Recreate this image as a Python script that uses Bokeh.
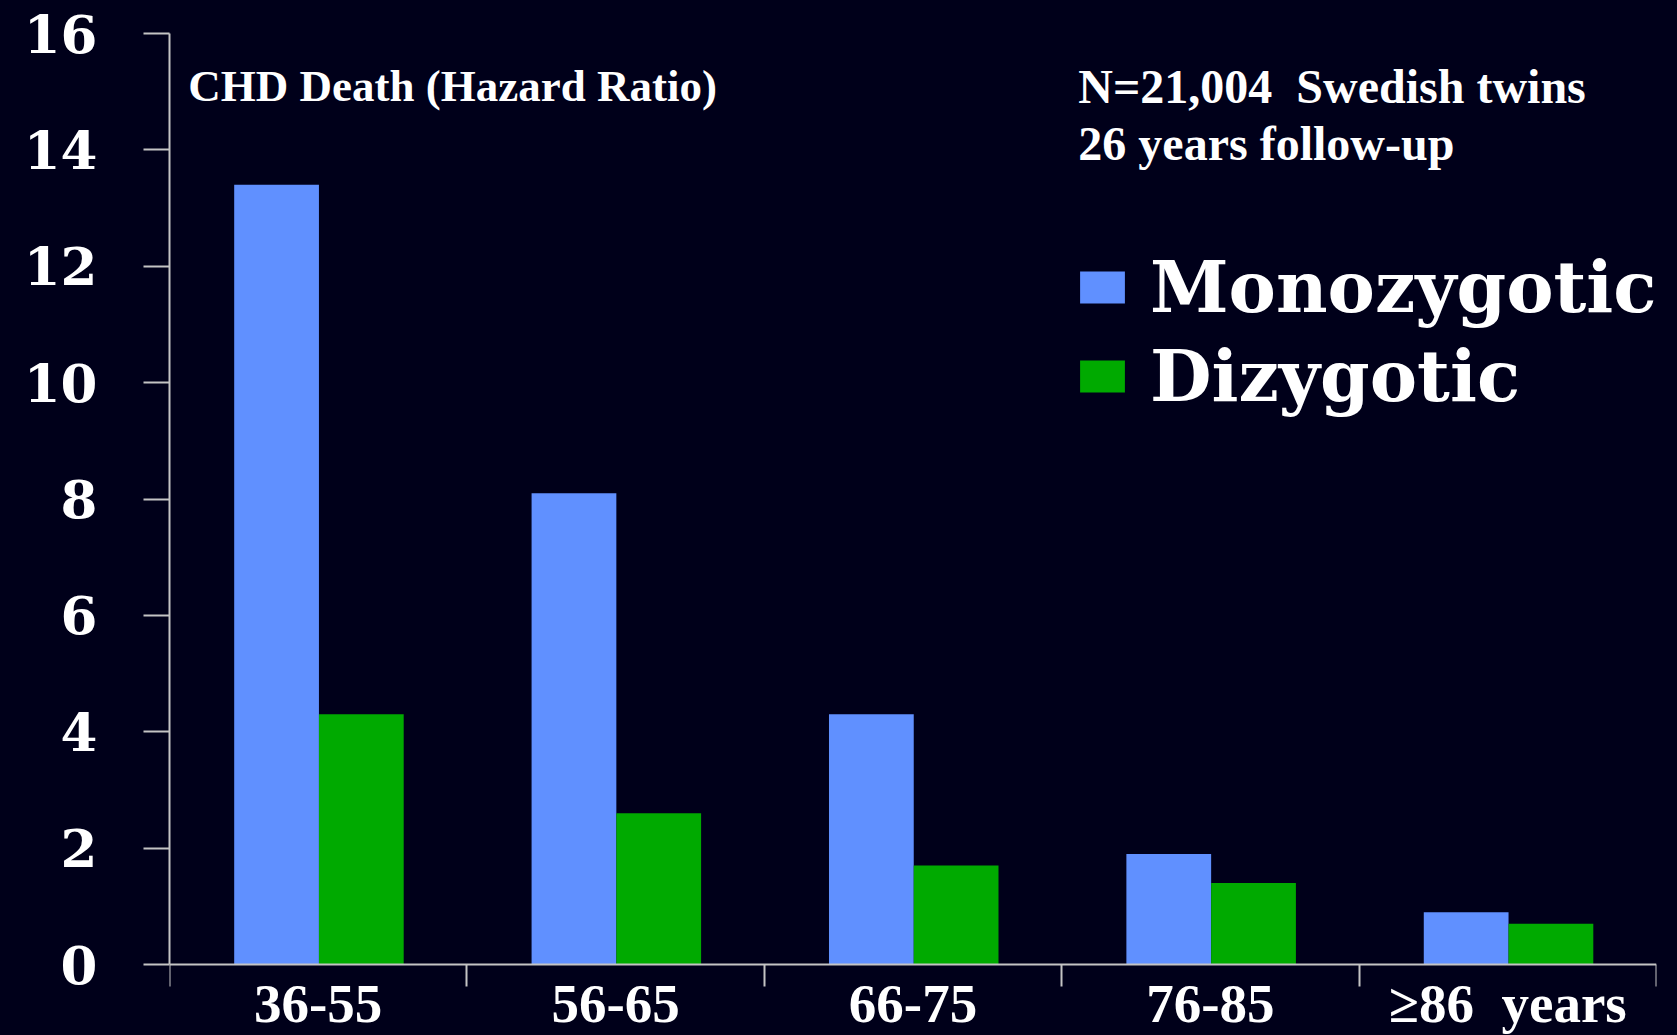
from bokeh.plotting import figure
from bokeh.models import (Range1d, FixedTicker, ColumnDataSource, LabelSet, Label,
                          Legend, LegendItem)
from bokeh.transform import dodge
from bokeh.embed import file_html
from bokeh.resources import INLINE

# ---- data ----
categories = ["36-55", "56-65", "66-75", "76-85", "\u226586\u00a0 years"]
monozygotic = [13.4, 8.1, 4.3, 1.9, 0.9]
dizygotic = [4.3, 2.6, 1.7, 1.4, 0.7]
y_ticks = [0, 2, 4, 6, 8, 10, 12, 14, 16]
title_text = "CHD Death (Hazard Ratio)"
note_lines = ["N=21,004 \u00a0Swedish twins", "26 years follow-up"]
series_names = ["Monozygotic", "Dizygotic"]

BG = "#00001a"
BLUE = "#6090ff"
GREEN = "#00aa00"
AXIS = "#c4c4c4"

centers = [i + 0.5 for i in range(len(categories))]
bounds = list(range(len(categories) + 1))
source = ColumnDataSource(dict(x=centers, cat=categories, mono=monozygotic, di=dizygotic))

p = figure(width=1677, height=1035,
           x_range=Range1d(0, len(categories)), y_range=Range1d(-1.22, 16),
           output_backend="svg", toolbar_location=None,
           min_border_left=169, min_border_top=33, min_border_bottom=0, min_border_right=21,
           background_fill_color=BG, border_fill_color=None)
p.styles = {"background-color": BG}
p.outline_line_color = None
p.grid.visible = False

# y axis
ya = p.yaxis[0]
ya.ticker = FixedTicker(ticks=y_ticks)
ya.bounds = (0, 16)
ya.major_tick_out = 26
ya.major_tick_in = 0
ya.minor_tick_out = 0
ya.minor_tick_in = 0
ya.axis_line_color = AXIS
ya.axis_line_width = 2
ya.major_tick_line_color = AXIS
ya.major_tick_line_width = 2
ya.major_label_standoff = 46
ya.major_label_text_font = "DejaVu Serif"
ya.major_label_text_font_style = "bold"
ya.major_label_text_font_size = "53px"
ya.major_label_text_color = "white"

# x axis at y=0: tick marks at category boundaries only
xa = p.xaxis[0]
xa.fixed_location = 0
xa.ticker = FixedTicker(ticks=[], minor_ticks=bounds)
xa.major_tick_out = 0
xa.major_tick_in = 0
xa.minor_tick_out = 22
xa.minor_tick_in = 0
xa.minor_tick_line_color = AXIS
xa.minor_tick_line_width = 2
xa.axis_line_color = AXIS
xa.axis_line_width = 2
xa.major_label_text_font_size = "0px"

r1 = p.vbar(x=dodge("x", -0.14, range=p.x_range), top="mono", width=0.285, source=source,
            fill_color=BLUE, line_color=None)
r2 = p.vbar(x=dodge("x", 0.145, range=p.x_range), top="di", width=0.285, source=source,
            fill_color=GREEN, line_color=None)

# category labels below axis
labels = LabelSet(x="x", y=0, text="cat", source=source, text_align="center",
                  text_baseline="alphabetic", y_offset=-57,
                  text_font="Liberation Serif", text_font_style="bold",
                  text_font_size="55px", text_color="white")
p.add_layout(labels)

p.add_layout(Label(x=0.063, y=15.10, text=title_text, text_baseline="alphabetic",
                   text_font="Liberation Serif", text_font_style="bold",
                   text_font_size="45px", text_color="white"))
for i, line in enumerate(note_lines):
    p.add_layout(Label(x=3.056, y=15.09 - i * 0.98, text=line, text_baseline="alphabetic",
                       text_font="Liberation Serif", text_font_style="bold",
                       text_font_size="48px", text_color="white"))

legend = Legend(items=[LegendItem(label=series_names[0], renderers=[r1]),
                       LegendItem(label=series_names[1], renderers=[r2])],
                location=(905, 617), orientation="vertical",
                glyph_width=56, glyph_height=40, label_standoff=20,
                label_text_font="DejaVu Serif", label_text_font_style="bold",
                label_text_font_size="71px", label_text_color="white",
                label_height=83, spacing=5, padding=0, margin=0,
                background_fill_alpha=0, border_line_color=None)
p.add_layout(legend)

open("out.html", "w").write(file_html(p, INLINE))
